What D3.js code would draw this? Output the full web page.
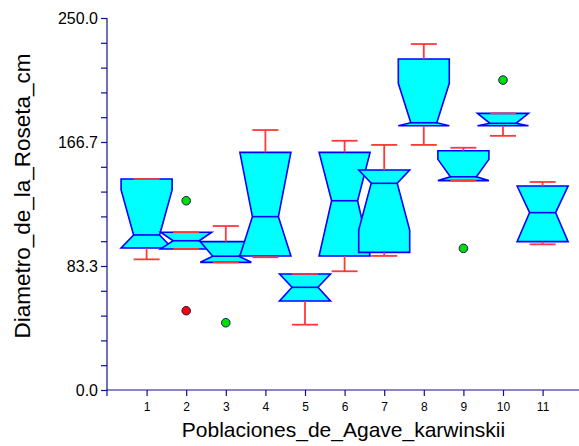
<!DOCTYPE html>
<html><head><meta charset="utf-8">
<script src="https://cdn.jsdelivr.net/npm/d3@7"></script>
<style>
html,body{margin:0;padding:0;background:#fff;}
svg{display:block;font-family:Arial,"Liberation Sans",sans-serif;}
</style></head>
<body><svg id="c" width="579" height="446"></svg>
<script>
// ---- data ----
const groups      = [1,2,3,4,5,6,7,8,9,10,11];
const whiskerLow  = [87.8, 94.8, 85.8, 89.2, 43.9, 79.8, 90.1, 164.7, 140.7, 170.8, 97.9];
const q1          = [95.4, 94.8, 85.8, 90.1, 59.8, 90.1, 92.5, 177.6, 140.7, 177.6, 99.7];
const medians     = [104.2,100.3, 89.9,116.5, 69.0,127.2,138.9, 179.6, 143.3, 179.2,119.2];
const q3          = [141.8,106.0, 99.7,159.7, 78.0,159.7,147.8, 222.4, 160.8, 185.9,137.1];
const whiskerHigh = [141.8,106.0,110.2,174.7, 78.0,167.5,164.7, 232.5, 162.8, 185.9,139.8];
const notchHalf   = [30.2, 12, 14, 48, 14, 40, 31.4, 26.5, 11.7, 10, 24];
const outlierGroup = [2, 2, 3, 9, 10];
const outlierValue = [127.2, 53.3, 45.2, 95.2, 208.3];
const outlierKind  = ["g","r","g","g","g"];
const yTickValues = d3.range(0, 16).map(i => i * 250 / 15);
const xTickValues = groups;
const xTitle = "Poblaciones_de_Agave_karwinskii";
const yTitle = "Diametro_de_la_Roseta_cm";

// ---- layout ----
const svg = d3.select("#c");
const axisColor = "#10108a";
const x = d3.scaleLinear().domain([0, 12]).range([107, 582.2]);
const y = d3.scaleLinear().domain([0, 250]).range([390, 18]);
const hw = 25.5, iw = 13, capW = 13;

// boxes
const g = svg.append("g");
groups.forEach((grp, i) => {
  const c = x(grp);
  const yQ3 = y(q3[i]), yM = y(medians[i]), yQ1 = y(q1[i]);
  const nTop = y(Math.min(medians[i] + notchHalf[i], q3[i]));
  const nBot = y(Math.max(medians[i] - notchHalf[i], q1[i]));
  const pts = [[c-hw,yQ3],[c-hw,nTop],[c-iw,yM],[c-hw,nBot],[c-hw,yQ1],
               [c+hw,yQ1],[c+hw,nBot],[c+iw,yM],[c+hw,nTop],[c+hw,yQ3]];
  const gb = g.append("g");
  gb.append("polygon").attr("points", pts.map(p => p.join(",")).join(" "))
    .attr("fill", "#00ffff").attr("stroke", "#0000ff").attr("stroke-width", 1.6)
    .attr("stroke-linejoin", "miter");
  gb.append("line").attr("x1", c-iw).attr("x2", c+iw).attr("y1", yM).attr("y2", yM)
    .attr("stroke", "#0000ff").attr("stroke-width", 1.6);
  const wc = "#ff3838";
  gb.append("line").attr("x1", c).attr("x2", c).attr("y1", y(whiskerHigh[i])).attr("y2", yQ3)
    .attr("stroke", wc).attr("stroke-width", 1.8);
  gb.append("line").attr("x1", c).attr("x2", c).attr("y1", y(whiskerLow[i])).attr("y2", yQ1)
    .attr("stroke", wc).attr("stroke-width", 1.8);
  gb.append("line").attr("x1", c-capW).attr("x2", c+capW).attr("y1", y(whiskerHigh[i])).attr("y2", y(whiskerHigh[i]))
    .attr("stroke", wc).attr("stroke-width", 1.8);
  gb.append("line").attr("x1", c-capW).attr("x2", c+capW).attr("y1", y(whiskerLow[i])).attr("y2", y(whiskerLow[i]))
    .attr("stroke", wc).attr("stroke-width", 1.8);
});

// outliers
svg.append("g").selectAll("circle").data(outlierValue).join("circle")
  .attr("cx", (d, i) => x(outlierGroup[i])).attr("cy", d => y(d)).attr("r", 4.3)
  .attr("fill", (d, i) => outlierKind[i] === "r" ? "#ff0000" : "#00e000")
  .attr("stroke", "#1a1a6a").attr("stroke-width", 1);

// y axis
const yAxis = d3.axisLeft(y).tickValues(yTickValues).tickSize(6).tickPadding(3)
  .tickFormat((d, i) => i % 5 === 0 ? d.toFixed(1) : "");
const ya = svg.append("g").attr("transform", "translate(107,0)").call(yAxis);
ya.select(".domain").remove();
ya.selectAll(".tick line").attr("stroke", axisColor).attr("stroke-width", 1.2);
ya.selectAll(".tick text").attr("fill", "#000").style("font-size", "16px").attr("dy", "0.36em");
svg.append("line").attr("x1", 107).attr("x2", 107).attr("y1", 18).attr("y2", 396)
  .attr("stroke", axisColor).attr("stroke-width", 1.2);

// x axis
const xAxis = d3.axisBottom(x).tickValues(xTickValues).tickSize(6).tickPadding(6).tickFormat(d3.format("d"));
const xa = svg.append("g").attr("transform", "translate(0,390)").call(xAxis);
xa.select(".domain").remove();
xa.selectAll(".tick line").attr("stroke", axisColor).attr("stroke-width", 1.2);
xa.selectAll(".tick text").attr("fill", "#000").style("font-size", "12px");
svg.append("line").attr("x1", 107).attr("x2", 579).attr("y1", 390).attr("y2", 390)
  .attr("stroke", axisColor).attr("stroke-width", 1.2);

// titles
svg.append("text").attr("x", 343.5).attr("y", 437).attr("text-anchor", "middle")
  .style("font-size", "21px").attr("fill", "#000").text(xTitle);
svg.append("text").attr("transform", "translate(30,196) rotate(-90)").attr("text-anchor", "middle")
  .style("font-size", "22.5px").attr("fill", "#000").text(yTitle);
</script></body></html>
